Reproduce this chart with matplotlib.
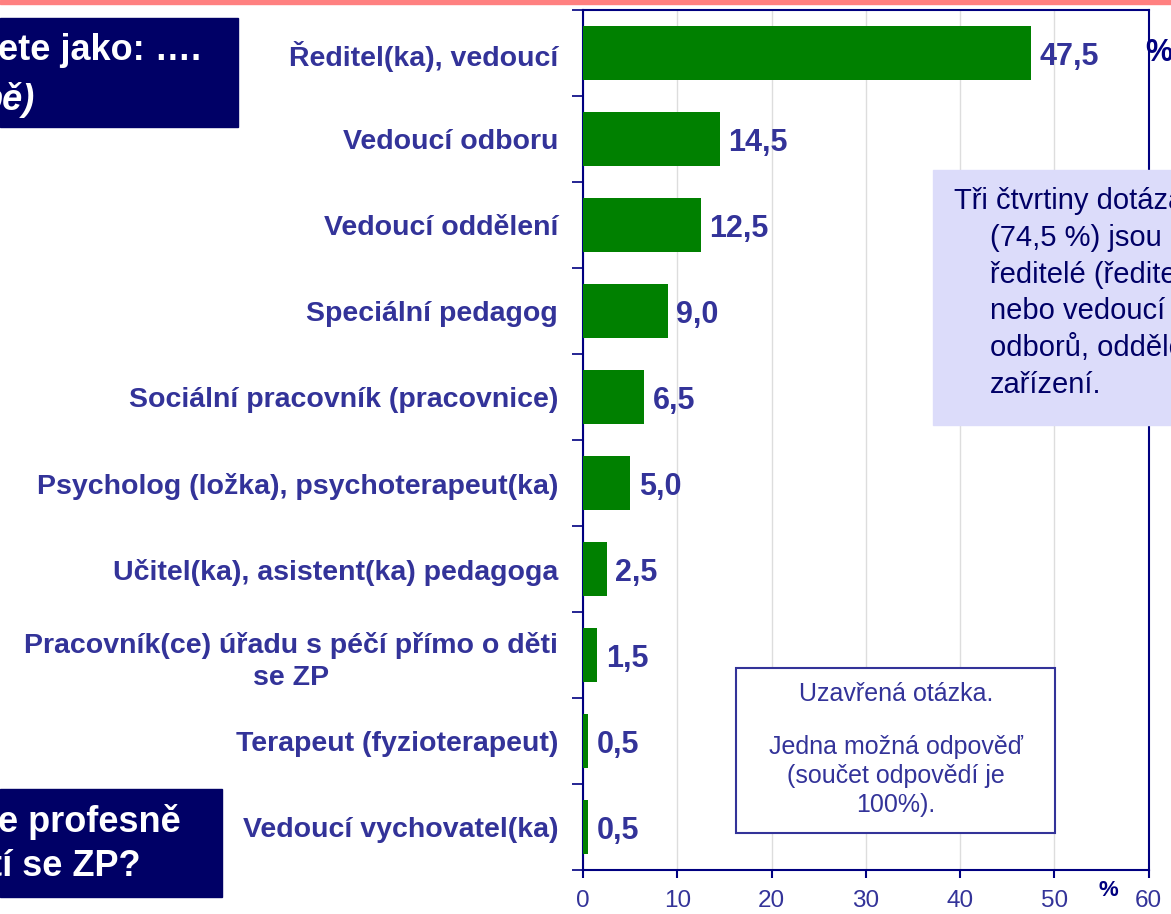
import numpy as np
import matplotlib.pyplot as plt
from matplotlib.patches import Rectangle

plt.rcParams['font.family'] = ['Liberation Sans', 'DejaVu Sans']

# Data
categories = ['Ředitel(ka), vedoucí', 'Vedoucí odboru', 'Vedoucí oddělení',
              'Speciální pedagog', 'Sociální pracovník (pracovnice)',
              'Psycholog (ložka), psychoterapeut(ka)',
              'Učitel(ka), asistent(ka) pedagoga',
              'Pracovník(ce) úřadu s péčí přímo o děti\nse ZP',
              'Terapeut (fyzioterapeut)', 'Vedoucí vychovatel(ka)']
values = [47.5, 14.5, 12.5, 9.0, 6.5, 5.0, 2.5, 1.5, 0.5, 0.5]
xticks = [0, 10, 20, 30, 40, 50, 60]

navy = '#000080'
label_col = '#333399'

fig = plt.figure(figsize=(11.71, 9.14), dpi=100)
ax = fig.add_axes([0.498, 0.048, 0.483, 0.941])

y = np.arange(len(categories))
ax.barh(y, values, height=0.62, color='#008000', zorder=3)
for yi, v in zip(y, values):
    ax.text(v + 0.9, yi + 0.05, f'{v:.1f}'.replace('.', ','), va='center', ha='left',
            fontsize=22, fontweight='bold', color=label_col, zorder=4)

ax.set_xlim(0, 60)
ax.set_ylim(len(categories) - 0.5, -0.5)
ax.set_xticks(xticks)
ax.set_xticklabels([str(t) for t in xticks], fontsize=17.5, color=label_col)
ax.tick_params(axis='x', direction='out', length=6, color=navy, width=1.5, pad=8)
ax.set_yticks(y)
ax.set_yticklabels(categories, fontsize=20.5, fontweight='bold', color=label_col)
for lab in ax.get_yticklabels():
    lab.set_multialignment('center')
    lab.set_linespacing(1.3)
ax.tick_params(axis='y', which='major', length=0, pad=18)
ax.set_yticks(np.arange(len(categories) + 1) - 0.5, minor=True)
ax.tick_params(axis='y', which='minor', direction='out', length=8, color=navy, width=1.2)
ax.grid(axis='x', color='#dddddd', linewidth=1, zorder=0)
for s in ax.spines.values():
    s.set_color(navy)
    s.set_linewidth(1.5)

ax.text(55.7, -0.012, '%', transform=ax.get_xaxis_transform(), fontsize=16,
        fontweight='bold', color=navy, ha='center', va='top')
ax.text(59.6, 0.0, '%', fontsize=22, fontweight='bold', color=navy,
        ha='left', va='center', clip_on=False)

# top stripe
fig.patches.append(Rectangle((0, 1 - 4 / 914), 1, 4 / 914, transform=fig.transFigure,
                             color='#FF8080', zorder=0))

# dark boxes on the left
fig.patches.append(Rectangle((0, 1 - 127 / 914), 238 / 1171, 109 / 914,
                             transform=fig.transFigure, color='#000066', zorder=1))
fig.text(-2 / 1171, 1 - 51 / 914, 'ete jako: ….', fontsize=26, fontweight='bold',
         color='white', va='center', ha='left')
fig.text(-19 / 1171, 1 - 100 / 914, 'pě)', fontsize=26, fontweight='bold', style='italic',
         color='white', va='center', ha='left')

fig.patches.append(Rectangle((0, 1 - 897 / 914), 222 / 1171, 108 / 914,
                             transform=fig.transFigure, color='#000066', zorder=1))
fig.text(-2 / 1171, 1 - 822 / 914, 'e profesně', fontsize=26, fontweight='bold',
         color='white', va='center', ha='left')
fig.text(-10 / 1171, 1 - 866 / 914, 'tí se ZP?', fontsize=26, fontweight='bold',
         color='white', va='center', ha='left')

# lavender note on the right
fig.patches.append(Rectangle((933 / 1171, 1 - 425 / 914), 260 / 1171, 255 / 914,
                             transform=fig.transFigure, color='#DCDCFA', zorder=5))
note_lines = ['Tři čtvrtiny dotázaných', '(74,5 %) jsou', 'ředitelé (ředitelky)',
              'nebo vedoucí', 'odborů, oddělení', 'zařízení.']
for i, line in enumerate(note_lines):
    x0 = 954 if i == 0 else 990
    fig.text(x0 / 1171, 1 - (201 + i * 36.8) / 914, line, fontsize=21, color='#000066',
             va='center', ha='left', zorder=6)

# closed question box
fig.patches.append(Rectangle((736 / 1171, 1 - 833 / 914), 319 / 1171, 165 / 914,
                             transform=fig.transFigure, facecolor='white',
                             edgecolor=label_col, linewidth=1.5, zorder=5))
fig.text(896 / 1171, 1 - 694 / 914, 'Uzavřená otázka.', fontsize=18, color=label_col,
         ha='center', va='center', zorder=6)
fig.text(896 / 1171, 1 - 776 / 914, 'Jedna možná odpověď\n(součet odpovědí je\n100%).',
         fontsize=18, color=label_col, ha='center', va='center', zorder=6,
         linespacing=1.25)

fig.savefig('out.png', dpi=100)
